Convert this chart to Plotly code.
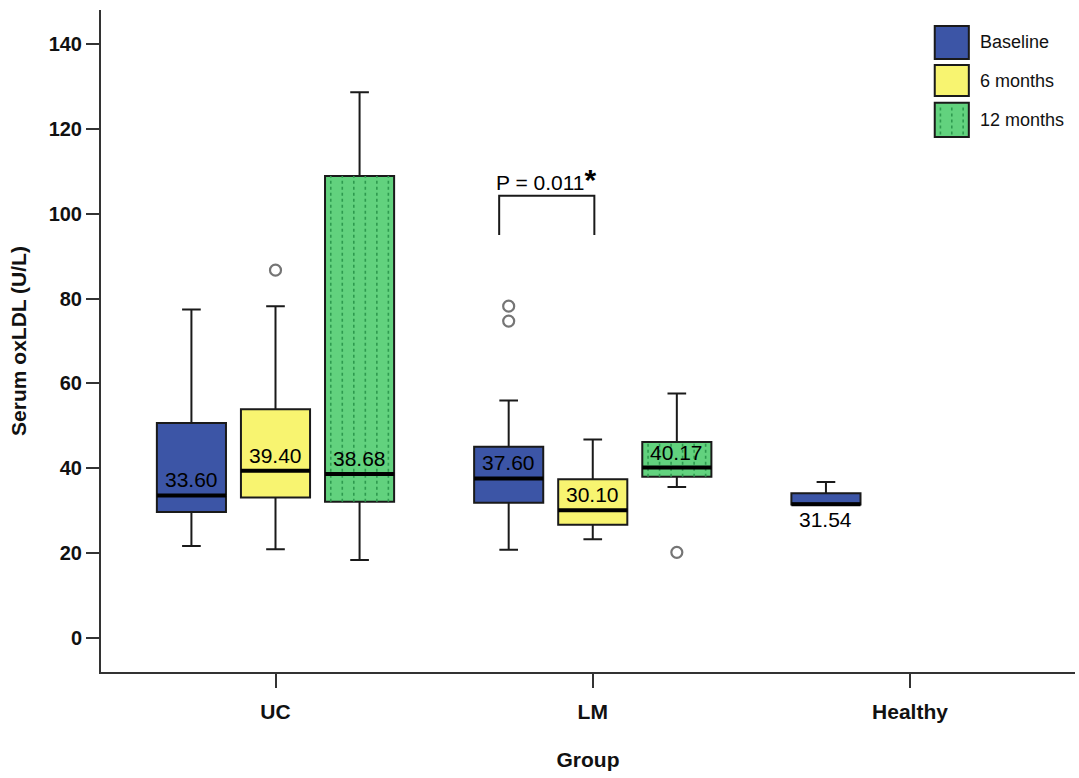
import plotly.graph_objects as go

# ---------------- data ----------------
groups = ["UC", "LM", "Healthy"]
series_names = ["Baseline", "6 months", "12 months"]

# per series: values for UC, LM, Healthy
baseline_q1 = [29.7, 31.9, 31.5]
baseline_median = [33.60, 37.60, 31.54]
baseline_q3 = [50.7, 45.1, 34.1]
baseline_low = [21.7, 20.8, 31.5]
baseline_high = [77.4, 56.0, 36.8]

m6_q1 = [33.1, 26.7]
m6_median = [39.40, 30.10]
m6_q3 = [53.9, 37.4]
m6_low = [20.9, 23.3]
m6_high = [78.2, 46.8]

m12_q1 = [32.1, 38.0]
m12_median = [38.68, 40.17]
m12_q3 = [108.9, 46.2]
m12_low = [18.4, 35.6]
m12_high = [128.6, 57.6]

# outliers: (group index, series index, value)
outlier_group = [0, 1, 1, 1]
outlier_series = [1, 0, 0, 2]
outlier_value = [86.7, 74.7, 78.2, 20.2]

p_text = "P = 0.011"
y_ticks = [0, 20, 40, 60, 80, 100, 120, 140]

# ---------------- styling ----------------
colors = ["#3c55a6", "#f8f470", "#62d27e"]
pattern_color = "#2e9a4f"
FONT = "Liberation Sans, Arial, sans-serif"
BOXGAP = 0.205
BOXGROUPGAP = 0.178
n_series = 3
slot = (1 - BOXGAP) / n_series
box_w = slot * (1 - BOXGROUPGAP)
offsets = [(i - (n_series - 1) / 2) * slot for i in range(n_series)]
XR = [-0.55, 2.52]

q1s = [baseline_q1, m6_q1, m12_q1]
meds = [baseline_median, m6_median, m12_median]
q3s = [baseline_q3, m6_q3, m12_q3]
lows = [baseline_low, m6_low, m12_low]
highs = [baseline_high, m6_high, m12_high]

fig = go.Figure()

for s in range(n_series):
    n = len(meds[s])
    fig.add_trace(go.Box(
        name=series_names[s],
        x=groups[:n],
        q1=q1s[s], median=meds[s], q3=q3s[s],
        lowerfence=lows[s], upperfence=highs[s],
        fillcolor=colors[s],
        line=dict(color="#1a1a1a", width=2),
        whiskerwidth=0.27,
        boxpoints=False,
        showlegend=False,
        hoverinfo="skip",
    ))

# dotted texture on 12 months boxes
n_cols = 6
for g in range(len(m12_median)):
    cx = g + offsets[2]
    for k in range(n_cols):
        xx = cx + (k - (n_cols - 1) / 2) * box_w / n_cols
        fig.add_trace(go.Scatter(
            x=[xx, xx], y=[m12_q1[g], m12_q3[g]],
            mode="lines", line=dict(color=pattern_color, width=1.6, dash="dot"),
            xaxis="x2", yaxis="y", showlegend=False, hoverinfo="skip",
        ))

# thick median lines
for s in range(n_series):
    for g, m in enumerate(meds[s]):
        cx = g + offsets[s]
        fig.add_trace(go.Scatter(
            x=[cx - box_w / 2, cx + box_w / 2], y=[m, m],
            mode="lines", line=dict(color="#000000", width=4),
            xaxis="x2", yaxis="y", showlegend=False, hoverinfo="skip",
        ))

# outliers
fig.add_trace(go.Scatter(
    x=[g + offsets[s] for g, s in zip(outlier_group, outlier_series)],
    y=outlier_value,
    mode="markers",
    marker=dict(symbol="circle-open", size=11, color="#757575", line=dict(width=2.2, color="#757575")),
    xaxis="x2", yaxis="y", showlegend=False, hoverinfo="skip",
))

# significance bracket
br_left = 1 + offsets[0] - 0.03
br_right = 1 + offsets[1] + 0.005
br_top = 104.2
br_bottom = 95.0
fig.add_trace(go.Scatter(
    x=[br_left, br_left, br_right, br_right],
    y=[br_bottom, br_top, br_top, br_bottom],
    mode="lines", line=dict(color="#1a1a1a", width=2),
    xaxis="x2", yaxis="y", showlegend=False, hoverinfo="skip",
))

annotations = []
for s in range(n_series):
    for g, m in enumerate(meds[s]):
        cx = g + offsets[s]
        if g == 2:
            annotations.append(dict(x=cx, y=q1s[s][g], xref="x2", yref="y",
                                    text=f"{m:.2f}", showarrow=False,
                                    yanchor="top", yshift=-2,
                                    font=dict(family=FONT, size=21, color="#000")))
        else:
            annotations.append(dict(x=cx, y=m, xref="x2", yref="y",
                                    text=f"{m:.2f}", showarrow=False,
                                    yanchor="bottom", yshift=2,
                                    font=dict(family=FONT, size=21, color="#000")))

annotations.append(dict(
    x=(br_left + br_right) / 2, y=br_top, xref="x2", yref="y",
    text=p_text + "<span style='font-size:30px'><b>*</b></span>",
    showarrow=False, yanchor="bottom", yshift=-2,
    font=dict(family=FONT, size=21, color="#000"),
))

# custom legend (large swatches as in the original)
shapes = []
leg_x0, leg_x1 = 0.856, 0.891
leg_rows = [(0.976, 0.926), (0.917, 0.870), (0.860, 0.808)]
for s, (ytop, ybot) in enumerate(leg_rows):
    shapes.append(dict(type="rect", xref="paper", yref="paper",
                       x0=leg_x0, x1=leg_x1, y0=ybot, y1=ytop,
                       fillcolor=colors[s], line=dict(color="#1a1a1a", width=2)))
    annotations.append(dict(x=0.900, y=(ytop + ybot) / 2, xref="paper", yref="paper",
                            text=series_names[s], showarrow=False,
                            xanchor="left", yanchor="middle",
                            font=dict(family=FONT, size=18, color="#111")))
# dotted texture in 12 months swatch
ytop, ybot = leg_rows[2]
for k in range(3):
    xx = leg_x0 + (k + 0.5) * (leg_x1 - leg_x0) / 3
    shapes.append(dict(type="line", xref="paper", yref="paper",
                       x0=xx, x1=xx, y0=ybot + 0.004, y1=ytop - 0.004,
                       line=dict(color=pattern_color, width=1.6, dash="dot")))

fig.update_layout(
    width=1079, height=778,
    margin=dict(l=101, r=4, t=10, b=106),
    paper_bgcolor="white", plot_bgcolor="white",
    boxmode="group", boxgap=BOXGAP, boxgroupgap=BOXGROUPGAP,
    font=dict(family=FONT, size=16, color="#111"),
    showlegend=False,
    annotations=annotations,
    shapes=shapes,
    xaxis=dict(
        type="category", categoryorder="array", categoryarray=groups,
        range=XR, showgrid=False, zeroline=False,
        showline=True, linecolor="#333", linewidth=2,
        ticks="outside", ticklen=14, tickcolor="#333", tickwidth=2,
        ticklabelstandoff=6,
        tickfont=dict(family=FONT, size=21, color="#111", weight="bold"),
        title=dict(text="<b>Group</b>", font=dict(family=FONT, size=21, color="#111"), standoff=30),
    ),
    xaxis2=dict(overlaying="x", range=XR, visible=False, showgrid=False, zeroline=False),
    yaxis=dict(
        range=[-8, 148], tickvals=y_ticks, showgrid=False, zeroline=False,
        showline=True, linecolor="#333", linewidth=2,
        ticks="outside", ticklen=13, tickcolor="#333", tickwidth=2,
        tickfont=dict(family=FONT, size=20, color="#111", weight="bold"),
        title=dict(text="<b>Serum oxLDL (U/L)</b>", font=dict(family=FONT, size=21, color="#111"), standoff=16),
    ),
)

fig.write_html("out.html")
